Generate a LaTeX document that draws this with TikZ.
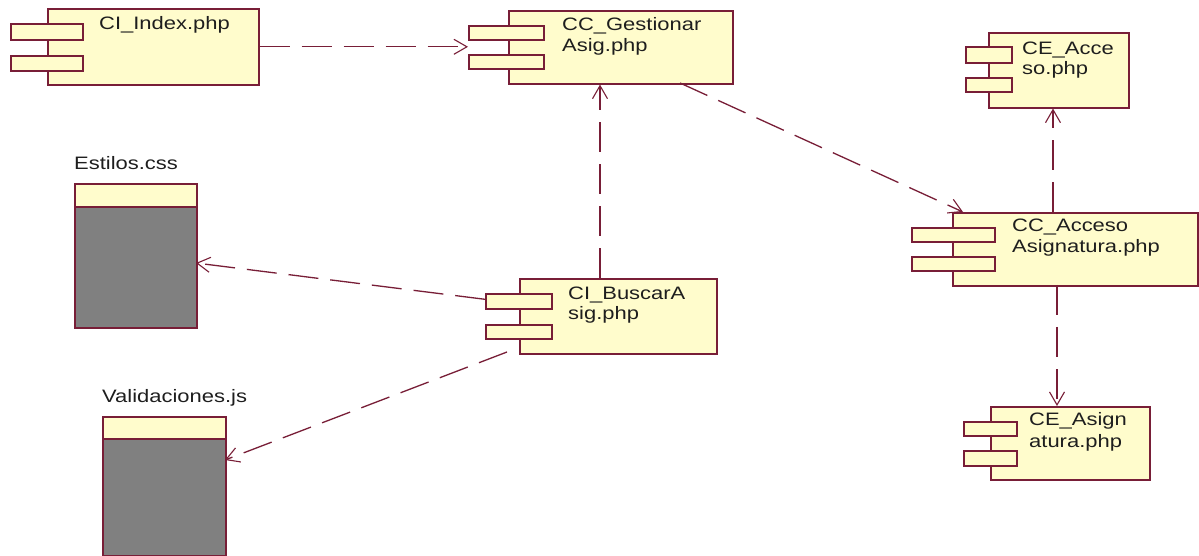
\documentclass[tikz,border=0pt]{standalone}
\usepackage{fontspec}
\setmainfont{Liberation Sans}[FakeStretch=1.22]
\usetikzlibrary{arrows.meta,calc}
\definecolor{rose}{RGB}{120,30,55}
\definecolor{compfill}{RGB}{255,252,204}
\definecolor{filegray}{RGB}{128,128,128}
\definecolor{txtcol}{RGB}{30,30,30}
\tikzset{
  comp/.style={draw=rose, fill=compfill, line width=1.6bp, rectangle, inner sep=0pt, anchor=north west},
  filebody/.style={draw=rose, fill=filegray, line width=1.6bp, rectangle, inner sep=0pt, anchor=north west},
  lbl/.style={anchor=base west, inner sep=0pt, text=txtcol, font=\fontsize{18bp}{21bp}\selectfont},
  dep/.style={draw=rose, line width=1.3bp, dash pattern=on 30bp off 12bp, -{Straight Barb[length=13bp,width=15bp,line width=1.1bp]}},
}
\begin{document}
\begin{tikzpicture}[x=1bp,y=-1bp]
\useasboundingbox[fill=white] (0,0) rectangle (1199,556);

% CI_Index.php
\node[comp, minimum width=211bp, minimum height=76bp] (idx) at (47,8) {};
\node[comp, minimum width=72bp, minimum height=16bp] (ip1) at (10,23) {};
\node[comp, minimum width=72bp, minimum height=15bp] (ip2) at (10,55) {};
\node[lbl] (idxt) at (99,30) {CI\_Index.php};

% CC_GestionarAsig.php
\node[comp, minimum width=224bp, minimum height=73bp] (ges) at (508,10) {};
\node[comp, minimum width=75bp, minimum height=14bp] (gp1) at (468,25) {};
\node[comp, minimum width=75bp, minimum height=14bp] (gp2) at (468,54) {};
\node[lbl] (gest1) at (562,31) {CC\_Gestionar};
\node[lbl] (gest2) at (562,52) {Asig.php};

% CE_Acceso.php
\node[comp, minimum width=140bp, minimum height=75bp] (cea) at (988,32) {};
\node[comp, minimum width=46bp, minimum height=16bp] (ap1) at (965,46) {};
\node[comp, minimum width=46bp, minimum height=14bp] (ap2) at (965,77) {};
\node[lbl] (ceat1) at (1022,55) {CE\_Acce};
\node[lbl] (ceat2) at (1022,75) {so.php};

% CC_AccesoAsignatura.php
\node[comp, minimum width=245bp, minimum height=73bp] (cca) at (952,212) {};
\node[comp, minimum width=83bp, minimum height=14bp] (cp1) at (911,227) {};
\node[comp, minimum width=83bp, minimum height=14bp] (cp2) at (911,256) {};
\node[lbl] (ccat1) at (1012,232) {CC\_Acceso};
\node[lbl] (ccat2) at (1012,253) {Asignatura.php};

% CE_Asignatura.php
\node[comp, minimum width=159bp, minimum height=73bp] (ceas) at (990,406) {};
\node[comp, minimum width=53bp, minimum height=14bp] (sp1) at (963,421) {};
\node[comp, minimum width=53bp, minimum height=15bp] (sp2) at (963,450) {};
\node[lbl] (ceast1) at (1029,425) {CE\_Asign};
\node[lbl] (ceast2) at (1029,447) {atura.php};

% CI_BuscarAsig.php
\node[comp, minimum width=197bp, minimum height=75bp] (bus) at (519,278) {};
\node[comp, minimum width=66bp, minimum height=15bp] (bp1) at (485,293) {};
\node[comp, minimum width=66bp, minimum height=14bp] (bp2) at (485,324) {};
\node[lbl] (bust1) at (568,300) {CI\_BuscarA};
\node[lbl] (bust2) at (568,320) {sig.php};

% Estilos.css
\node[filebody, minimum width=122bp, minimum height=144bp] (est) at (74,183) {};
\node[comp, minimum width=122bp, minimum height=23bp] (esth) at (74,183) {};
\node[lbl] (estt) at (74,170) {Estilos.css};

% Validaciones.js
\node[filebody, minimum width=123bp, minimum height=139bp] (val) at (102,416) {};
\node[comp, minimum width=123bp, minimum height=22bp] (valh) at (102,416) {};
\node[lbl] (valt) at (102,402) {Validaciones.js};

% connector end points
\coordinate (b1) at (600,278);
\coordinate (g2) at (680,83);
\coordinate (c1) at (963,212);
\coordinate (c2) at (1053,212);
\coordinate (c3) at (1057,285);
\coordinate (e1) at (196,263);
\coordinate (v1) at (225,460);
\coordinate (b2) at (507,352);

% dependencies
\draw[dep] (idx.east) -- (idx.east -| gp1.west);
\draw[dep] (b1) -- (b1 |- ges.south);
\draw[dep] (g2) -- (c1);
\draw[dep] (c2) -- (c2 |- cea.south);
\draw[dep] (c3) -- (c3 |- ceas.north);
\draw[dep] ($(bp1.west)+(0,-2)$) -- (e1);
\draw[dep] (b2) -- (v1);
\end{tikzpicture}
\end{document}
